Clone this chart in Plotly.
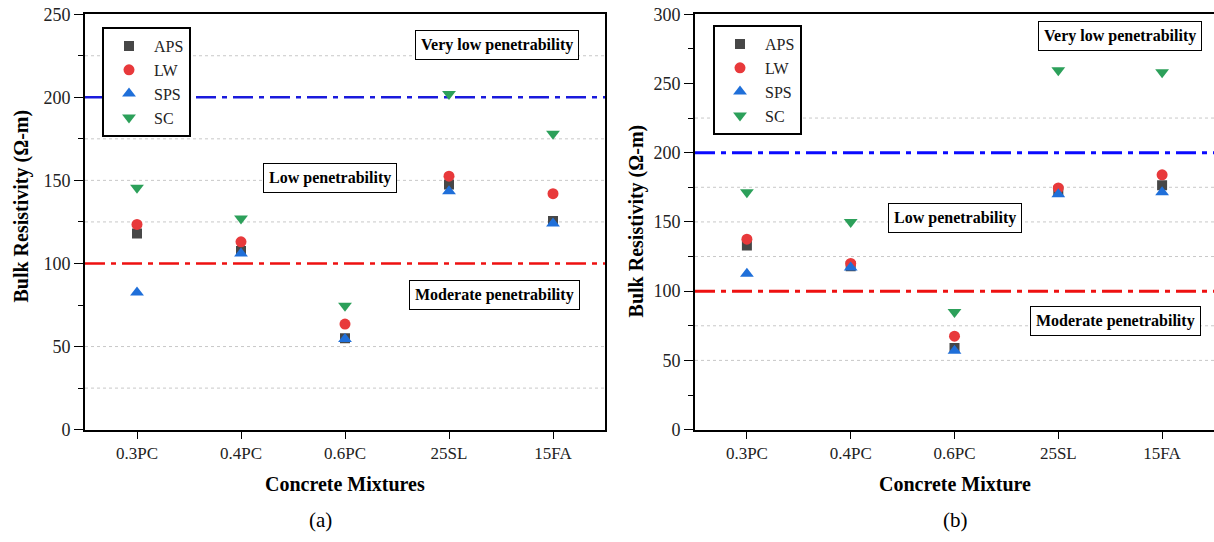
import plotly.graph_objects as go

# ---------------- data ----------------
categories = ["0.3PC", "0.4PC", "0.6PC", "25SL", "15FA"]

# panel (a)
a_APS = [118.0, 107.5, 55.0, 147.5, 125.5]
a_LW = [123.5, 113.0, 63.5, 152.5, 142.0]
a_SPS = [82.5, 106.0, 54.5, 143.5, 124.0]
a_SC = [145.5, 127.0, 74.5, 202.0, 178.0]

# panel (b)
b_APS = [133.0, 118.0, 59.0, 172.5, 176.5]
b_LW = [137.5, 120.0, 67.5, 174.5, 184.0]
b_SPS = [112.5, 117.0, 57.0, 170.0, 171.5]
b_SC = [171.5, 150.0, 85.0, 259.5, 258.0]

series_names = ["APS", "LW", "SPS", "SC"]
thresholds = [100, 200]
grid_a = [25, 50, 125, 150, 175, 225]
grid_b = [50, 75, 125, 150, 175, 225]

# ---------------- style ----------------
FONT = "Liberation Serif"
colors = {"APS": "#474747", "LW": "#e8393b", "SPS": "#1f6fd9", "SC": "#2ca05a"}
symbols = {"APS": "square", "LW": "circle", "SPS": "triangle-up", "SC": "triangle-down"}
sizes = {"APS": 10, "LW": 11, "SPS": 12, "SC": 12}

W, H = 1214, 542
OFF = 8
SCALE = 542 / 558

fig = go.Figure()

data_a = {"APS": a_APS, "LW": a_LW, "SPS": a_SPS, "SC": a_SC}
data_b = {"APS": b_APS, "LW": b_LW, "SPS": b_SPS, "SC": b_SC}

for name in series_names:
    fig.add_trace(go.Scatter(
        x=categories, y=data_a[name], mode="markers", name=name,
        marker=dict(symbol=symbols[name], color=colors[name], size=sizes[name]),
        xaxis="x", yaxis="y", legend="legend"))
for name in series_names:
    fig.add_trace(go.Scatter(
        x=categories, y=data_b[name], mode="markers", name=name,
        marker=dict(symbol=symbols[name], color=colors[name], size=sizes[name]),
        xaxis="x2", yaxis="y2", legend="legend2"))


def paper_y(y_px):
    # picture row -> figure row -> paper fraction
    y_fig = y_px / SCALE - OFF
    return 1 - y_fig / H


ydom = [paper_y(431), paper_y(12)]
xdom_a = [85 / W, 605 / W]
xdom_b = [695 / W, 1.0]

axis_common = dict(
    showline=True, linecolor="black", linewidth=2,
    ticks="outside", tickcolor="black", tickwidth=1.3,
    showgrid=False, zeroline=False,
)
xfont = dict(family=FONT, size=17, color="#222")
yfont = dict(family=FONT, size=18, color="#222")
minor = dict(dtick=25, ticklen=5, ticks="outside", tickcolor="black", showgrid=False)

legend_style = dict(xanchor="left", yanchor="top",
                    bordercolor="black", borderwidth=2, bgcolor="white",
                    font=dict(family=FONT, size=16, color="#222"),
                    itemwidth=40, tracegroupgap=0)

fig.update_layout(
    width=W, height=H,
    margin=dict(l=0, r=0, t=0, b=0),
    plot_bgcolor="white", paper_bgcolor="white",
    font=dict(family=FONT, color="black"),
    xaxis=dict(domain=xdom_a, anchor="y", type="category", range=[-0.5, 4.5],
               mirror=True, ticklen=7, tickfont=xfont, **axis_common),
    yaxis=dict(domain=ydom, anchor="x", range=[0, 250], dtick=50, ticklen=9,
               mirror=True, minor=minor, tickfont=yfont, ticklabeloverflow="allow",
               **axis_common),
    xaxis2=dict(domain=xdom_b, anchor="y2", type="category", range=[-0.5, 4.5],
                mirror=True, ticklen=7, tickfont=xfont, **axis_common),
    yaxis2=dict(domain=ydom, anchor="x2", range=[0, 300], dtick=50, ticklen=9,
                mirror=False, minor=minor, tickfont=yfont, ticklabeloverflow="allow",
                **axis_common),
    legend=dict(x=102 / W, y=paper_y(25), **legend_style),
    legend2=dict(x=713 / W, y=paper_y(23), **legend_style),
    showlegend=True,
)

shapes = []
for g in grid_a:
    shapes.append(dict(type="line", xref="x domain", yref="y", x0=0, x1=1, y0=g, y1=g,
                       line=dict(color="#c8c8c8", width=1, dash="dot"), layer="below"))
for g in grid_b:
    shapes.append(dict(type="line", xref="x2 domain", yref="y2", x0=0, x1=1, y0=g, y1=g,
                       line=dict(color="#c8c8c8", width=1, dash="dot"), layer="below"))
# threshold lines
th_colors_a = {100: "#ee1111", 200: "#1a1adc"}
th_colors_b = {100: "#ee1111", 200: "#0a0aff"}
for t in thresholds:
    shapes.append(dict(type="line", xref="x domain", yref="y", x0=0, x1=1, y0=t, y1=t,
                       line=dict(color=th_colors_a[t], width=2.5, dash="20px,6px,5px,6px"),
                       layer="below"))
    shapes.append(dict(type="line", xref="x2 domain", yref="y2", x0=0, x1=1, y0=t, y1=t,
                       line=dict(color=th_colors_b[t], width=3, dash="20px,6px,5px,6px"),
                       layer="below"))
fig.update_layout(shapes=shapes)

box = dict(showarrow=False, bordercolor="black", borderwidth=1, bgcolor="white",
           borderpad=5, xanchor="center", yanchor="middle",
           font=dict(family=FONT, size=16, color="black"))
title_font = dict(family=FONT, size=20, color="black")
plain = dict(xref="paper", yref="paper", showarrow=False, xanchor="center", yanchor="middle")
ann = [
    dict(x=3.46, y=231.5, xref="x", yref="y", text="<b>Very low penetrability</b>", **box),
    dict(x=1.86, y=151.3, xref="x", yref="y", text="<b>Low penetrability</b>", **box),
    dict(x=3.44, y=81.0, xref="x", yref="y", text="<b>Moderate penetrability</b>", **box),
    dict(x=3.59, y=284.3, xref="x2", yref="y2", text="<b>Very low penetrability</b>", **box),
    dict(x=2.0, y=153.0, xref="x2", yref="y2", text="<b>Low penetrability</b>", **box),
    dict(x=3.55, y=78.3, xref="x2", yref="y2", text="<b>Moderate penetrability</b>", **box),
    # axis titles
    dict(x=345 / W, y=paper_y(486), text="<b>Concrete Mixtures</b>", font=title_font, **plain),
    dict(x=955 / W, y=paper_y(486), text="<b>Concrete Mixture</b>", font=title_font, **plain),
    dict(x=22 / W, y=paper_y(206), textangle=-90, text="<b>Bulk Resistivity (Ω-m)</b>",
         font=title_font, **plain),
    dict(x=636 / W, y=paper_y(221), textangle=-90, text="<b>Bulk Resistivity (Ω-m)</b>",
         font=title_font, **plain),
    # panel captions
    dict(x=320 / W, y=paper_y(522), text="(a)", font=dict(family=FONT, size=21, color="black"), **plain),
    dict(x=955 / W, y=paper_y(522), text="(b)", font=dict(family=FONT, size=21, color="black"), **plain),
]
fig.update_layout(annotations=ann)

fig.write_html("out.html")
